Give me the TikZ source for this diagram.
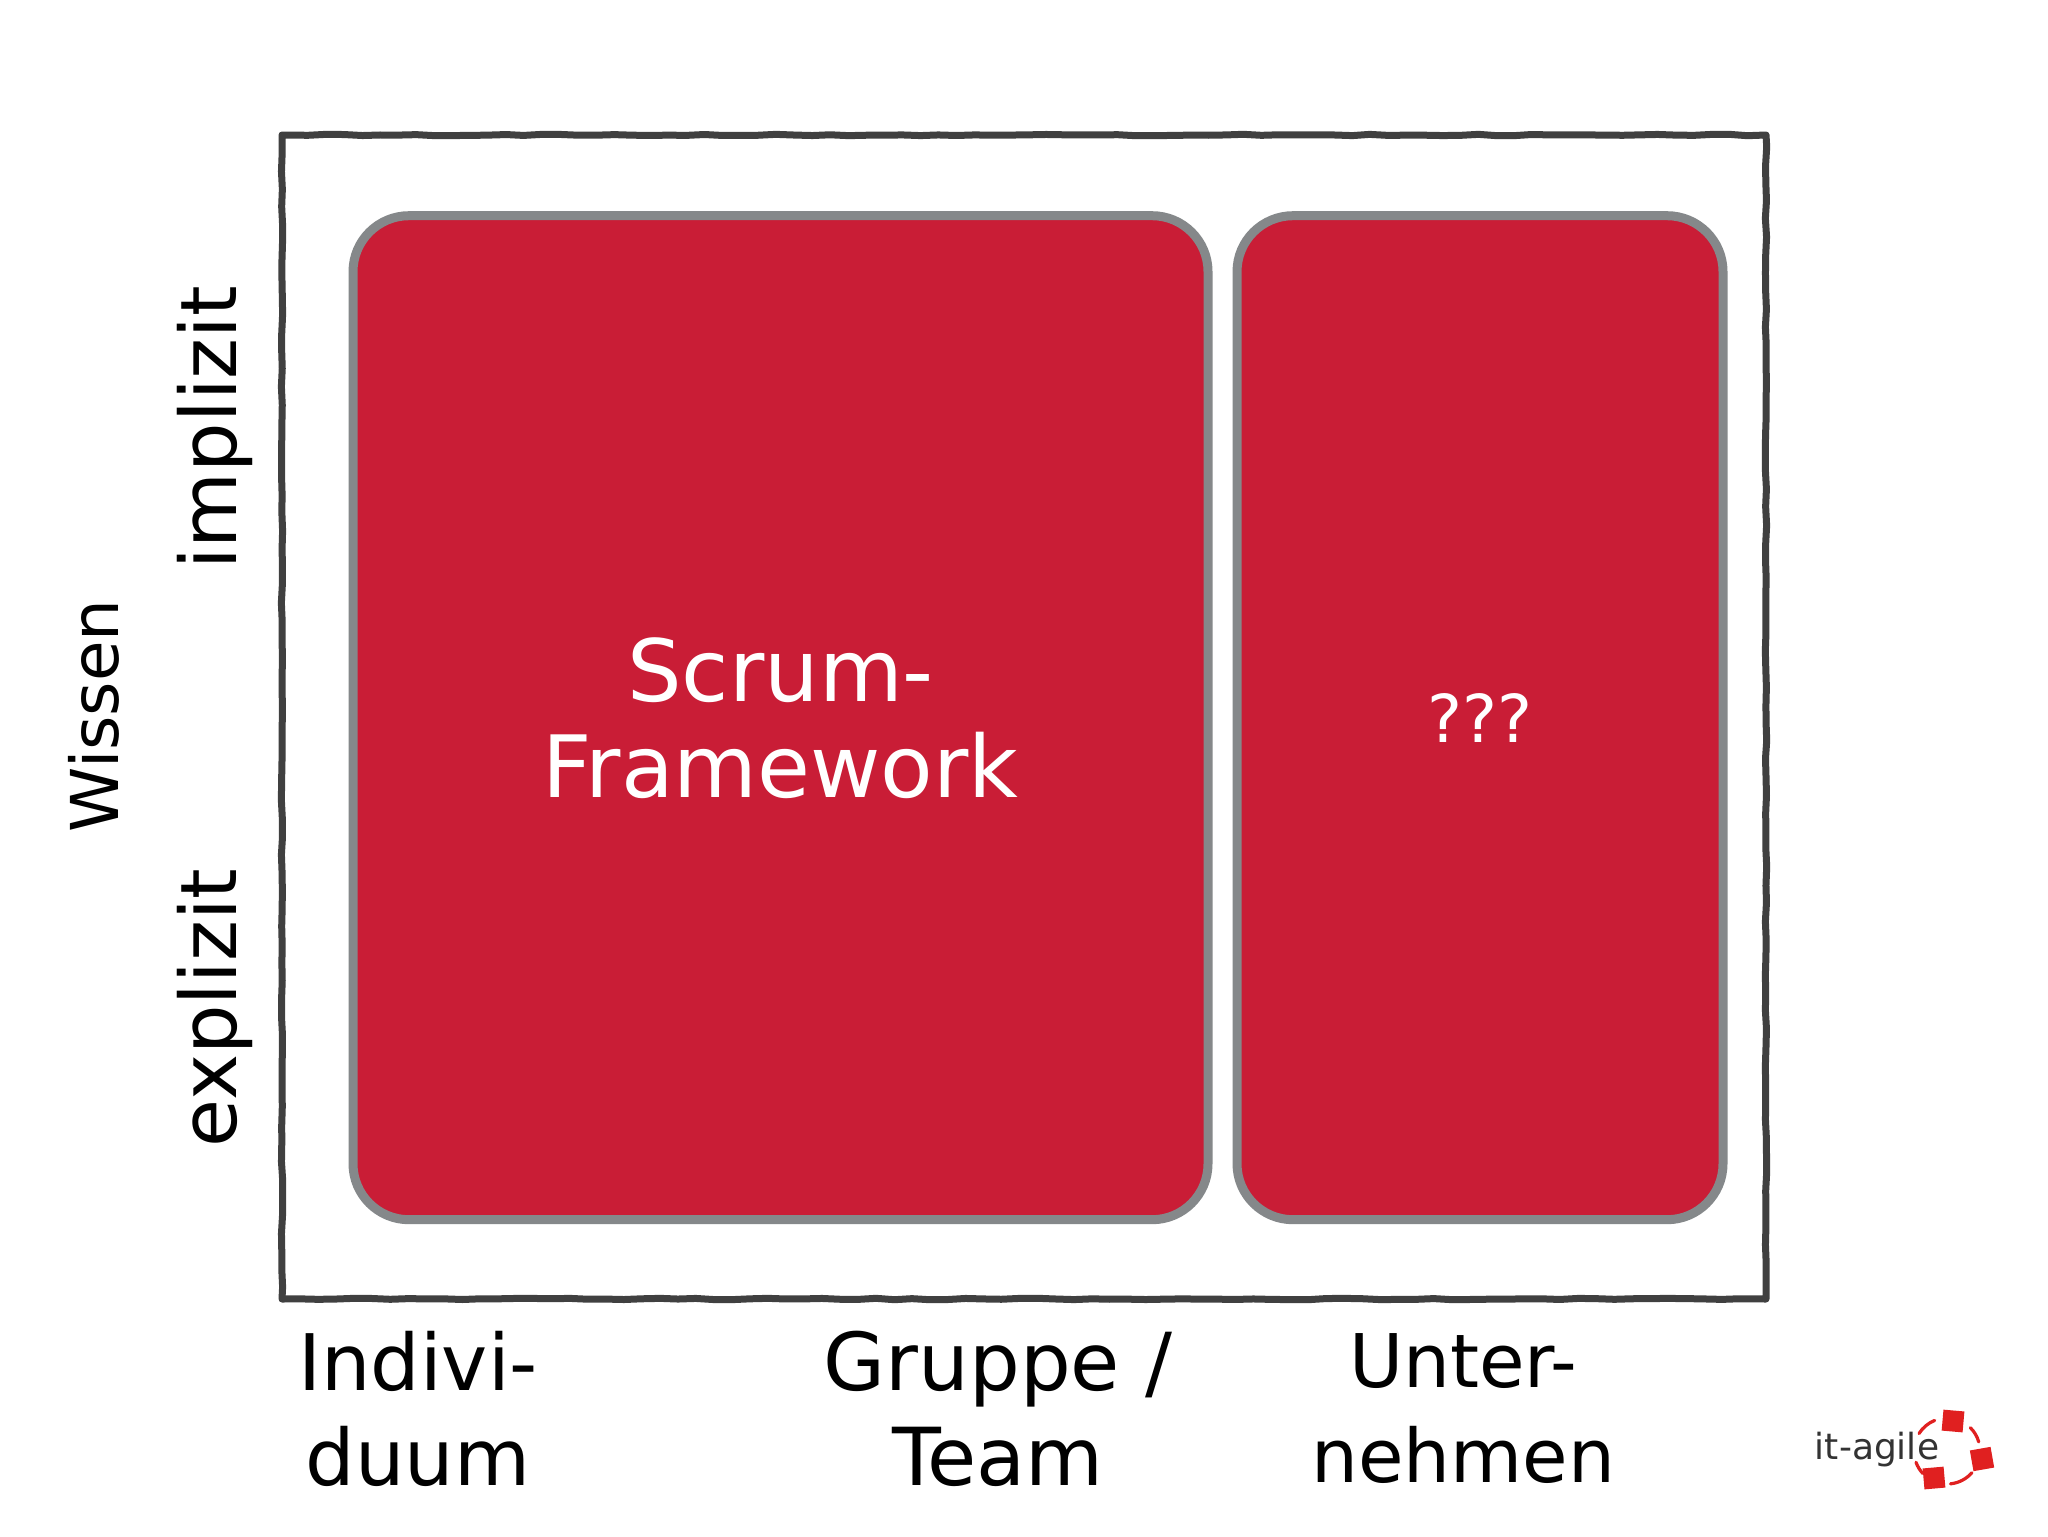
\documentclass[tikz,border=0pt]{standalone}
\usepackage{fontspec}
\setmainfont{DejaVu Sans}
\usetikzlibrary{decorations.pathmorphing}
\definecolor{boxred}{HTML}{C91D36}
\definecolor{boxgray}{HTML}{85888A}
\definecolor{framegray}{HTML}{404040}
\definecolor{logored}{HTML}{E02020}
\begin{document}
\begin{tikzpicture}[x=.5pt, y=-.5pt,
      every node/.append style={inner sep=0pt, outer sep=0pt},
      handlabel/.style={align=center, text=black, font=\fontsize{#1}{47.5}\selectfont},
      handlabel/.default=39,
      framebox/.style={draw=framegray, line width=3.5pt, line join=round, decorate,
        decoration={random steps, segment length=9pt, amplitude=.35pt}},
      redbox/.style={draw=boxgray, fill=boxred, line width=4.5pt, rounded corners=28pt,
        align=center, text=white, font=\fontsize{#1}{48}\selectfont},
      logosquare/.style={fill=logored, minimum size=10.5pt},
      logodash/.style={draw=logored, line width=1.6pt, line cap=round}]
    \useasboundingbox (0,0) rectangle (2048,1536);
    \fill[white] (0,0) rectangle (2048,1536);
    \pgfmathsetseed{7}
    \node (frame) [framebox, minimum width=742pt, minimum height=582pt] at (1024,717) {};
    \node (scrum) [redbox=43, minimum width=427.5pt, minimum height=502pt] at (780.5,717.7) {Scrum-\\Framework};
    \node (unknown) [redbox=33, minimum width=243pt, minimum height=502pt] at (1480,717.7) {???};
    \node (wissen) [handlabel=33, rotate=90] at (94,716) {Wissen};
    \node (implizit) [handlabel, rotate=90] at (215,428) {implizit};
    \node (explizit) [handlabel, rotate=90] at (215,1008) {explizit};
    \node (individuum) [handlabel] at (418,1408.5) {Indivi-\\duum};
    \node (gruppe) [handlabel=40] at (998,1408.5) {Gruppe /\\Team};
    \node (unternehmen) [handlabel=37] at (1463,1408.5) {Unter-\\nehmen};
    \node (logotext) [font=\fontsize{18}{20}\selectfont, text=black!80] at (1877,1450) {it-agile};
    \coordinate (logocentre) at (1947,1451);
    \node (squaretop) [logosquare, rotate=-5] at (1953,1421) {};
    \node (squareright) [logosquare, rotate=10] at (1982,1459) {};
    \node (squareleft) [logosquare, rotate=5] at (1934,1478) {};
    \foreach \from/\to in {148/112, 45/16, -84/-41, -160/-137}
      \draw[logodash] ([shift={(\from:16.5pt)}]logocentre) arc[start angle=\from, end angle=\to, radius=16.5pt];
\end{tikzpicture}
\end{document}
